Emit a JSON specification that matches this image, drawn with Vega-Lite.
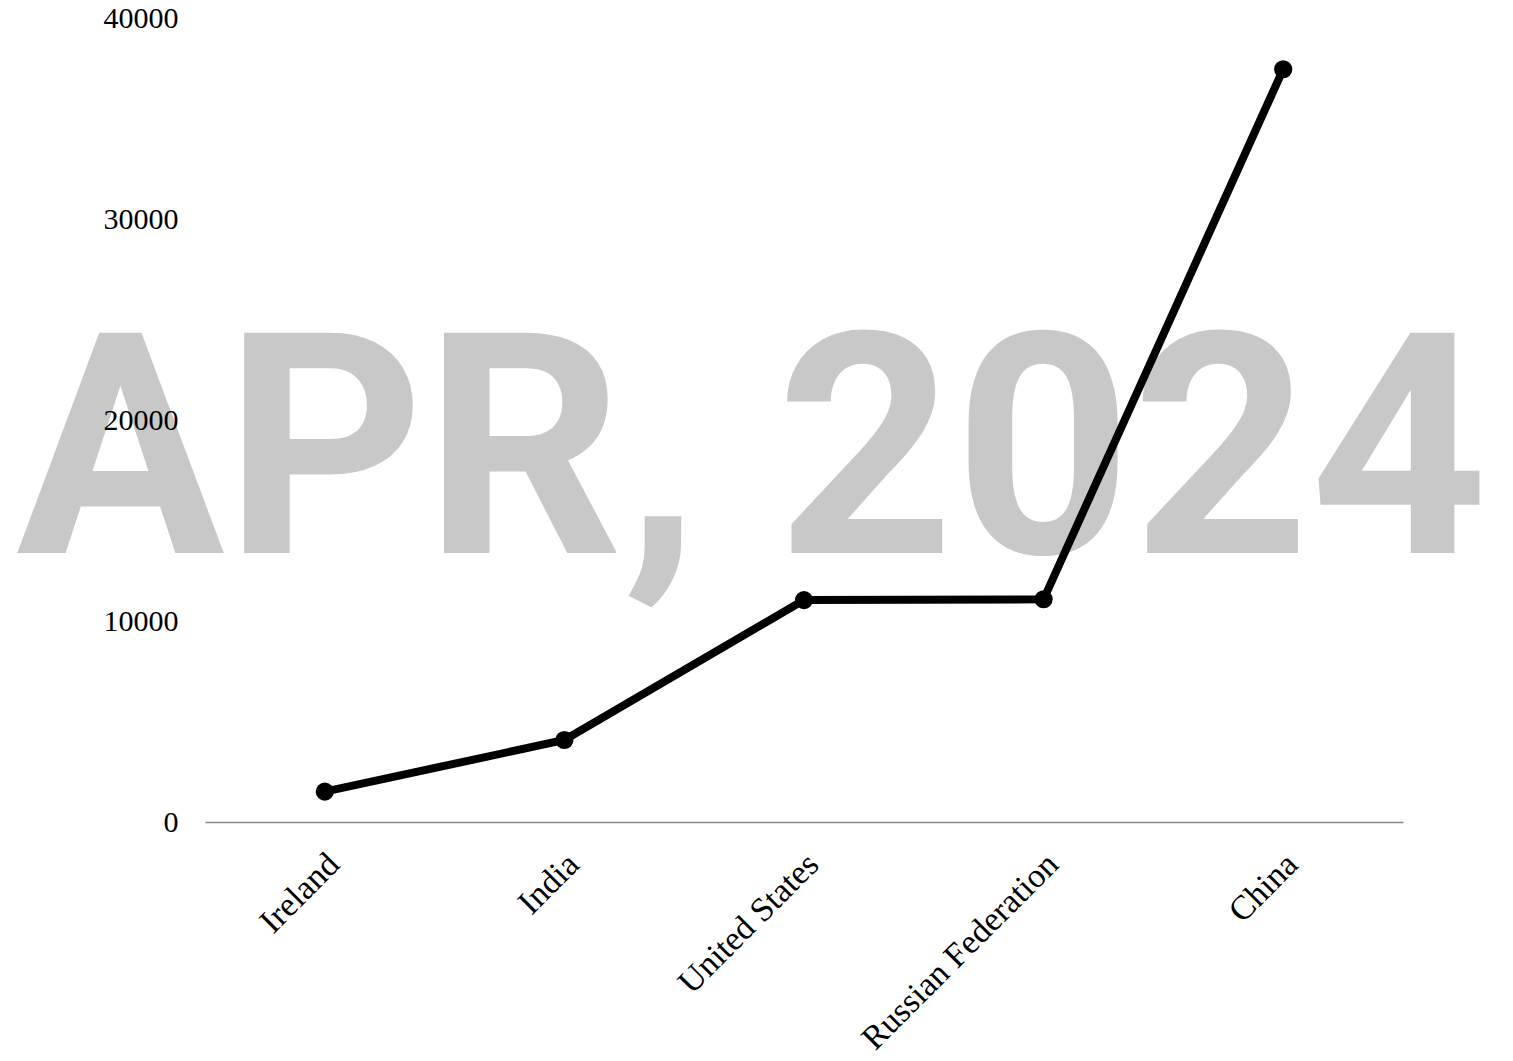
{
  "$schema": "https://vega.github.io/schema/vega-lite/v6.json",
  "autosize": "none",
  "padding": {"left": 205, "top": 18, "right": 110, "bottom": 239},
  "width": 1198,
  "height": 804,
  "background": "white",
  "config": {
    "view": {"stroke": null},
    "axis": {"labelFont": "Liberation Serif", "labelColor": "black", "titleFont": "Liberation Serif"}
  },
  "data": {
    "values": [
      {"country": "Ireland", "value": 1510},
      {"country": "India", "value": 4080},
      {"country": "United States", "value": 11040},
      {"country": "Russian Federation", "value": 11080},
      {"country": "China", "value": 37450}
    ]
  },
  "layer": [
    {
      "data": {"values": [{"label": "APR, 2024"}]},
      "mark": {"type": "text", "font": "Roboto", "fontWeight": "bold", "fontSize": 310, "align": "center", "baseline": "alphabetic", "fill": "black", "fillOpacity": 0.216, "dx": -52},
      "encoding": {
        "text": {"field": "label", "type": "nominal"},
        "x": {"datum": "United States", "type": "nominal"},
        "y": {"datum": 13380, "type": "quantitative"}
      }
    },
    {
      "mark": {"type": "line", "color": "black", "strokeWidth": 8, "point": {"filled": true, "color": "black", "size": 330, "opacity": 1}},
      "encoding": {
        "x": {
          "field": "country", "type": "nominal", "sort": null,
          "scale": {"type": "point", "padding": 0.5, "domain": ["Ireland", "India", "United States", "Russian Federation", "China"]},
          "axis": {"title": null, "labelAngle": -45, "labelFontSize": 34, "labelLimit": 0, "labelOffset": 9, "ticks": false, "domain": true, "domainColor": "#888888", "domainWidth": 1.5, "grid": false, "labelPadding": 37}
        },
        "y": {
          "field": "value", "type": "quantitative",
          "scale": {"domain": [0, 40000], "nice": false},
          "axis": {"title": null, "values": [0, 10000, 20000, 30000, 40000], "format": "d", "labelFontSize": 30, "ticks": false, "domain": false, "gridColor": "#c8c8c8", "gridWidth": 1.5, "labelPadding": 27}
        }
      }
    }
  ]
}
